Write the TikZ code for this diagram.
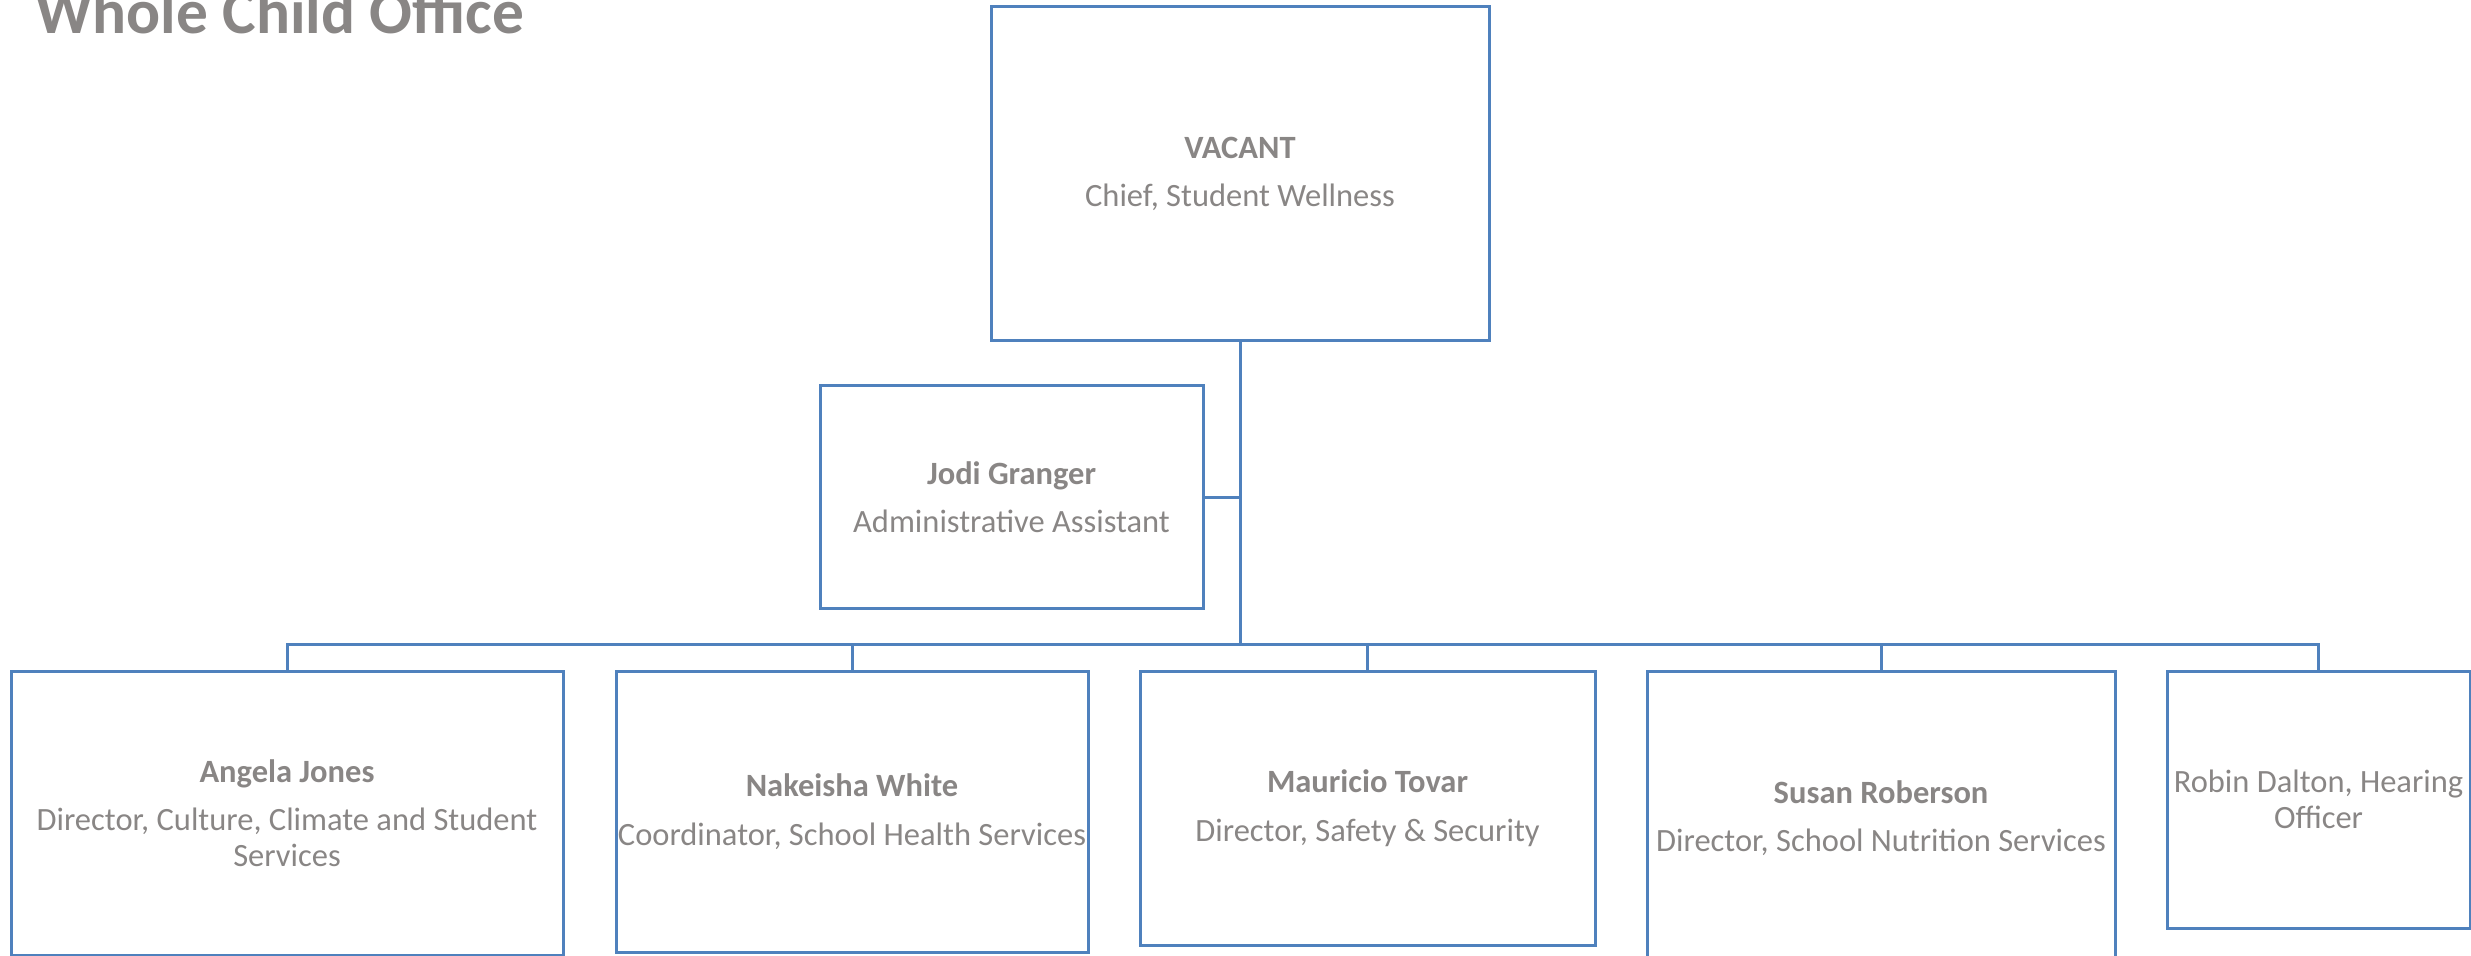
\documentclass[tikz,border=0pt]{standalone}
\usepackage{fontspec}
\setmainfont{Carlito}
\usepackage{tikz}
\usetikzlibrary{positioning,calc}
\definecolor{boxblue}{RGB}{79,129,189}
\definecolor{txtgray}{RGB}{137,134,133}

\begin{document}
\begin{tikzpicture}[
            x=0.5pt, y=-0.5pt,
            vbox/.style={rectangle,draw=boxblue,line width=1.5pt,align=center,inner sep=0pt,text=txtgray,font=\fontsize{16.25}{17.75}\selectfont},
            vline/.style={draw=boxblue,line width=1.5pt}
          ]
          \useasboundingbox (0,0) rectangle (2471,956);
          \node[anchor=base west, text=txtgray, font=\fontsize{31.7}{38}\selectfont\bfseries] (Title) at (28,34) {Whole Child Office};
          % top of the chart
          \node[vbox, minimum width=249pt, minimum height=167pt] (Chief) at (1240,174) {\textbf{VACANT}\\[6.5pt]Chief, Student Wellness};
          \node[vbox, minimum width=191.5pt, minimum height=111pt] (Asst) at (1011.5,497) {\textbf{Jodi Granger}\\[6.5pt]Administrative Assistant};
          % second row
          \node[vbox, minimum width=276pt, minimum height=142pt] (Jones) at (287,813) {\textbf{Angela Jones}\\[6.5pt]Director, Culture, Climate and Student\\Services};
          \node[vbox, minimum width=236pt, minimum height=140.5pt] (White) at (852,811.5) {\textbf{Nakeisha White}\\[6.5pt]Coordinator, School Health Services};
          \node[vbox, minimum width=227.5pt, minimum height=137pt] (Tovar) at (1367.5,808) {\textbf{Mauricio Tovar}\\[6.5pt]Director, Safety \& Security};
          \node[vbox, minimum width=234pt, minimum height=147pt] (Roberson) at (1881,818) {\textbf{Susan Roberson}\\[6.5pt]Director, School Nutrition Services};
          \node[vbox, minimum width=151.5pt, minimum height=128.5pt] (Dalton) at (2318.5,799.5) {Robin Dalton, Hearing\\Officer};
          \coordinate (hub) at (1240,644);
          \draw[vline] (Chief.south) -- (hub);
          \draw[vline] (Asst.east) -- (Asst.east -| hub);
          \foreach \n in {Jones,White,Tovar,Roberson,Dalton}
            \draw[vline] (\n.north) |- (hub);
        \end{tikzpicture}
\end{document}
